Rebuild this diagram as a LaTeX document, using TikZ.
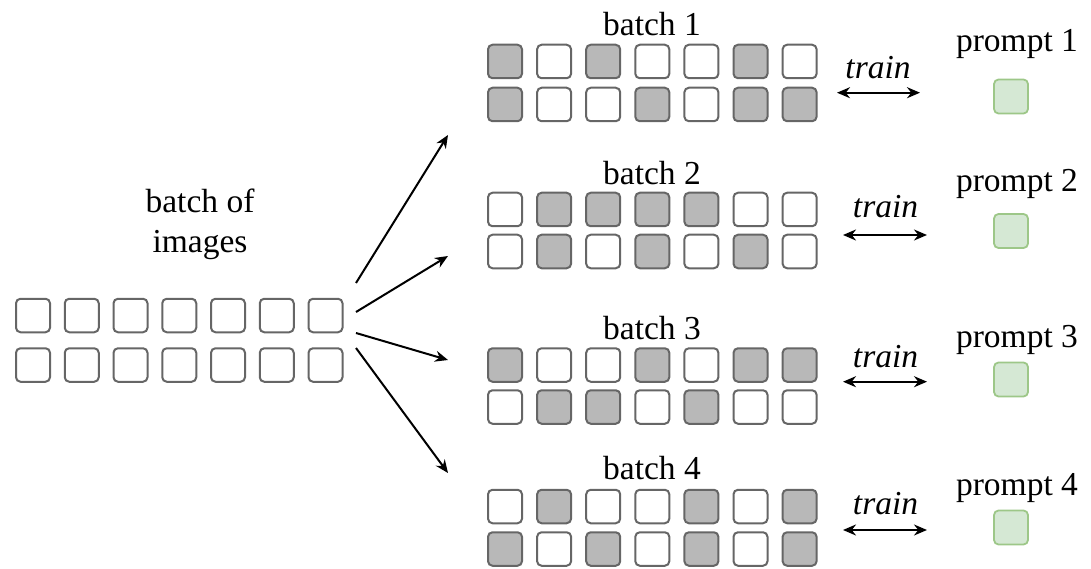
\documentclass[tikz,border=0pt]{standalone}
\usepackage{fontspec}
\setmainfont{Liberation Serif}
\usetikzlibrary{arrows.meta}
\definecolor{cellline}{HTML}{666666}
\definecolor{cellfill}{HTML}{B8B8B8}
\definecolor{promptfill}{HTML}{D5E8D4}
\definecolor{promptline}{HTML}{9DC788}

\begin{document}
\begin{tikzpicture}[x=1pt,y=-1pt,
  cell/.style={draw=cellline, line width=2pt, rounded corners=4.5pt,
    minimum width=34pt, minimum height=33.5pt, inner sep=0pt, fill=white},
  cell0/.style={},
  cell1/.style={fill=cellfill},
  promptbox/.style={draw=promptline, fill=promptfill, line width=1.8pt,
    rounded corners=4.5pt, minimum size=34pt, inner sep=0pt},
  lbl/.style={font=\fontsize{33.5}{39}\selectfont, anchor=base, inner sep=0pt},
  trainlbl/.style={font=\fontsize{33.5}{39}\selectfont\itshape, anchor=base, inner sep=0pt},
  fan/.style={-{Stealth[length=13pt,width=11pt]}, line width=2pt},
  twoway/.style={{Stealth[length=13pt,width=11pt]}-{Stealth[length=13pt,width=11pt]}, line width=2pt}
]
\useasboundingbox (0,0) rectangle (1091,569);

% input batch: 2 x 7 empty cells
\foreach \c in {0,...,6}
  \foreach \r/\y in {0/315.5,1/365}
    \node[cell] (in-\r-\c) at ({33+48.75*\c},\y) {};
\node[lbl] (inlabel) at (200,213) {batch of};
\node[lbl] (inlabel2) at (200,252) {images};

% sampled batches (1 = selected cell)
\foreach \b/\lb/\ya/\yb/\pa/\pb in {
    1/36/61.5/104.5/{1,0,1,0,0,1,0}/{1,0,0,1,0,1,1},
    2/185/209.5/251.5/{0,1,1,1,1,0,0}/{0,1,0,1,0,1,0},
    3/339/365/407/{1,0,0,1,0,1,1}/{0,1,1,0,1,0,0},
    4/479/506.5/549/{0,1,0,0,1,0,1}/{1,0,1,0,1,0,1}}{
  \node[lbl] (blabel\b) at (652,\lb) {batch \b};
  \foreach \v [count=\c from 0] in \pa
    \node[cell, cell\v] (b\b-0-\c) at ({505+49.1*\c},\ya) {};
  \foreach \v [count=\c from 0] in \pb
    \node[cell, cell\v] (b\b-1-\c) at ({505+49.1*\c},\yb) {};
}

% prompts
\foreach \p/\lb/\y in {1/52/96.5, 2/192/231, 3/347/379.5, 4/495/527.5}{
  \node[lbl] (plabel\p) at (1017,\lb) {prompt \p};
  \node[promptbox] (prompt\p) at (1011,\y) {};
}

% training links
\foreach \p/\tx/\tb/\ay/\xa/\xb in {1/878/79/92.7/837/920, 2/885.5/218/235/843/927,
    3/885.5/367/381.7/843/927, 4/885.5/514/530/843/927}{
  \node[trainlbl] (train\p) at (\tx,\tb) {train};
  \coordinate (tl\p) at (\xa,\ay);
  \coordinate (tr\p) at (\xb,\ay);
  \draw[twoway] (tl\p) -- (tr\p);
}

% fan-out arrows
\foreach \k/\ys/\ye in {1/283/135, 2/312/256, 3/333/360, 4/348/473}{
  \coordinate (fs\k) at (356,\ys);
  \coordinate (fe\k) at (448,\ye);
  \draw[fan] (fs\k) -- (fe\k);
}
\end{tikzpicture}
\end{document}
